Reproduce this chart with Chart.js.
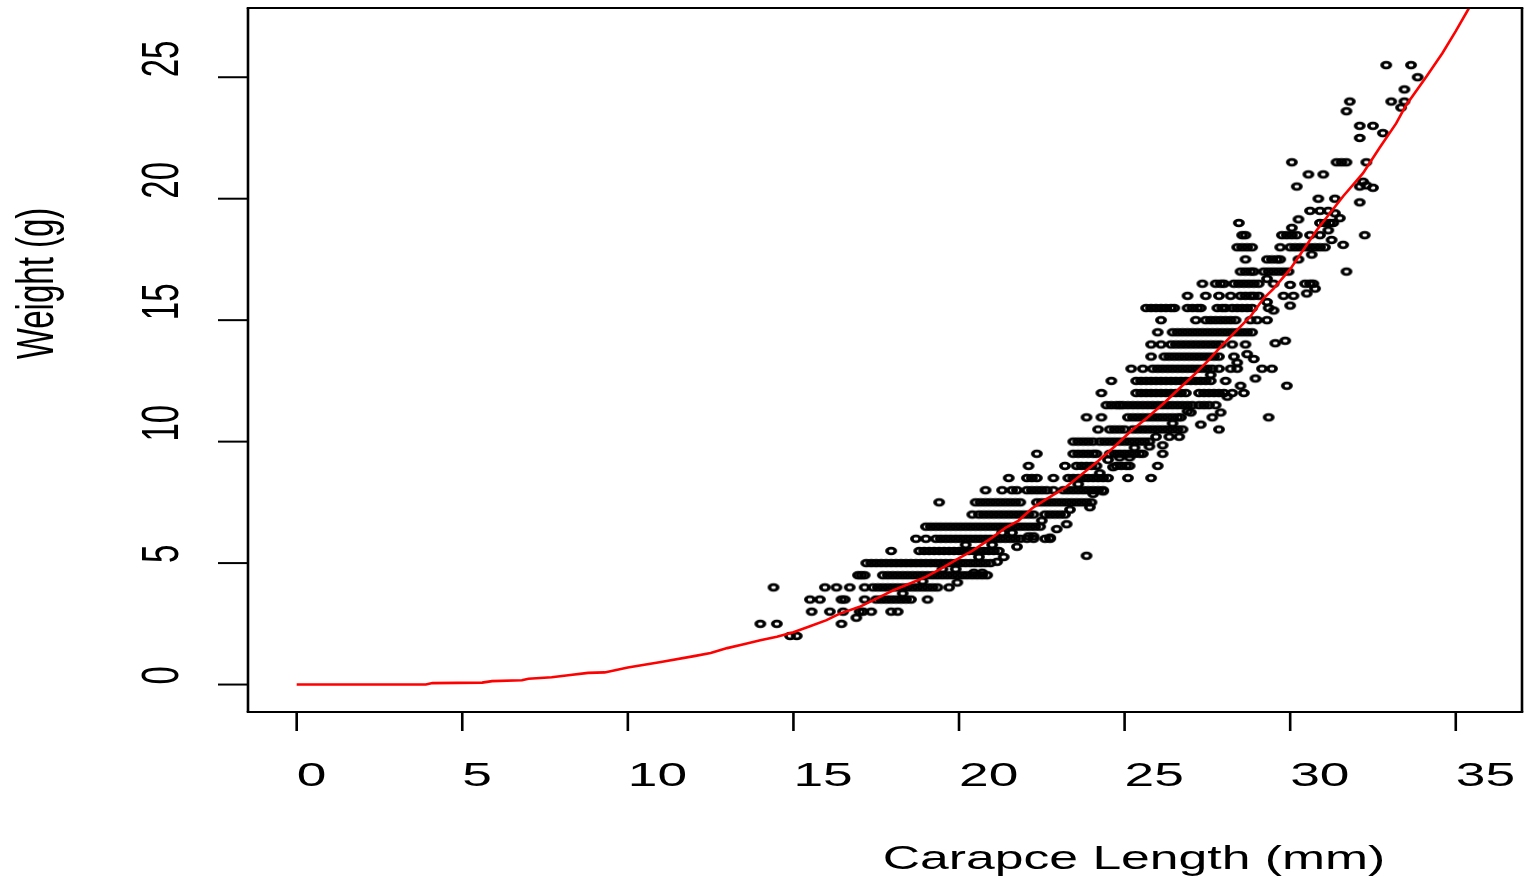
<!DOCTYPE html>
<html>
<head>
<meta charset="utf-8">
<script src="https://cdn.jsdelivr.net/npm/chart.js@4.4.1/dist/chart.umd.min.js"></script>
<style>
html,body{margin:0;padding:0;background:#fff;}
#c{display:block;}
</style>
</head>
<body>
<canvas id="c" width="1530" height="877"></canvas>
<script>
// ---------- data ----------
const xTickValues = [0, 5, 10, 15, 20, 25, 30, 35];
const yTickValues = [0, 5, 10, 15, 20, 25];
const xTitle = "Carapce Length (mm)";
const yTitle = "Weight (g)";

// weights are recorded on a 0.5 g grid: one list of lengths per weight row
const rowWeights = [2.0, 2.5, 3.0, 3.5, 4.0, 4.5, 5.0, 5.5, 6.0, 6.5, 7.0, 7.5, 8.0, 8.5, 9.0, 9.5, 10.0, 10.5, 11.0, 11.5, 12.0, 12.5, 13.0, 13.5, 14.0, 14.5, 15.0, 15.5, 16.0, 16.5, 17.0, 17.5, 18.0, 18.5, 19.0, 19.5, 20.0, 20.5, 21.0, 21.5, 23.0, 24.0, 25.5];
const rowLengths = [
  [14.9, 15.1],
  [14.0, 14.5, 16.45],
  [15.55, 16.1, 16.5, 17.0, 17.1, 17.35, 17.95, 18.15],
  [15.5, 15.8, 16.45, 16.55, 17.15, 17.5, 17.65, 17.8, 17.95, 18.1, 18.25, 18.4, 18.55, 19.05],
  [14.4, 15.95, 16.3, 16.7, 17.15, 17.4, 17.55, 17.7, 17.85, 18.0, 18.15, 18.3, 18.45, 18.6, 18.75, 18.9, 19.05, 19.2, 19.35, 19.7],
  [16.95, 17.05, 17.15, 17.7, 17.85, 18.0, 18.15, 18.3, 18.45, 18.6, 18.75, 18.9, 19.05, 19.2, 19.35, 19.5, 19.65, 19.8, 19.95, 20.1, 20.25, 20.4, 20.55, 20.7, 20.85],
  [17.2, 17.35, 17.5, 17.65, 17.8, 17.95, 18.1, 18.25, 18.4, 18.55, 18.7, 18.85, 19.0, 19.15, 19.3, 19.45, 19.6, 19.75, 19.9, 20.05, 20.2, 20.35, 20.5, 20.65, 20.8, 20.95],
  [17.95, 18.8, 18.95, 19.1, 19.25, 19.4, 19.55, 19.7, 19.85, 20.0, 20.15, 20.3, 20.45, 20.6, 20.75, 20.9, 21.05, 21.2],
  [18.7, 19.0, 19.3, 19.45, 19.6, 19.75, 19.9, 20.05, 20.2, 20.35, 20.5, 20.65, 20.8, 20.95, 21.1, 21.25, 21.4, 21.55, 21.7, 21.85, 22.05, 22.25, 22.6, 22.75],
  [19.0, 19.15, 19.3, 19.45, 19.6, 19.75, 19.9, 20.05, 20.2, 20.35, 20.5, 20.65, 20.8, 20.95, 21.1, 21.25, 21.4, 21.55, 21.7, 21.85, 22.0, 22.15, 22.3, 22.45],
  [20.4, 20.6, 20.75, 20.9, 21.05, 21.2, 21.35, 21.5, 21.65, 21.8, 21.95, 22.1, 22.25, 22.6, 22.75, 22.9, 23.05, 23.2],
  [19.4, 20.5, 20.65, 20.8, 20.95, 21.1, 21.25, 21.4, 21.55, 21.7, 21.85, 22.35, 22.5, 22.65, 22.8, 22.95, 23.1, 23.25, 23.4, 23.55, 23.7, 23.85, 24.0],
  [20.8, 21.3, 21.6, 21.75, 22.05, 22.2, 22.35, 22.5, 22.65, 22.85, 23.15, 23.3, 23.45, 23.6, 23.75, 23.9, 24.05, 24.2, 24.35],
  [21.5, 22.05, 22.2, 22.35, 22.85, 23.3, 23.45, 23.6, 23.75, 23.9, 24.05, 24.2, 24.35, 24.5, 25.1, 25.8],
  [22.1, 23.2, 23.55, 23.7, 23.85, 24.0, 24.15, 24.75, 24.9, 25.05, 25.15, 26.0],
  [22.35, 23.45, 23.6, 23.75, 23.9, 24.05, 24.15, 24.55, 24.7, 24.85, 25.0, 25.15, 25.3, 25.45, 25.55, 26.15],
  [23.45, 23.6, 23.75, 23.9, 24.05, 24.25, 24.4, 24.55, 24.7, 24.85, 25.0, 25.15, 25.3, 25.45, 25.6, 25.75],
  [24.2, 24.55, 24.7, 24.85, 25.0, 25.25, 25.4, 25.55, 25.7, 25.85, 26.0, 26.15, 26.3, 26.45, 26.6, 26.75, 27.85],
  [23.85, 24.3, 25.1, 25.25, 25.4, 25.55, 25.7, 25.85, 26.0, 26.15, 26.3, 26.45, 26.6, 26.7, 27.65, 29.35],
  [24.45, 24.6, 24.75, 24.85, 24.95, 25.1, 25.25, 25.4, 25.55, 25.7, 25.85, 26.0, 26.15, 26.3, 26.45, 26.6, 26.75, 26.9, 27.05, 27.25, 27.4, 27.55, 27.75],
  [24.3, 25.35, 25.5, 25.65, 25.8, 25.95, 26.1, 26.25, 26.4, 26.55, 26.7, 26.85, 27.25, 27.4, 27.55, 27.7, 27.85, 28.0, 28.25, 28.6],
  [24.6, 25.35, 25.5, 25.65, 25.8, 25.95, 26.1, 26.25, 26.4, 26.55, 26.7, 26.85, 27.0, 27.15, 27.3, 27.45, 27.6, 28.05],
  [25.2, 25.55, 25.85, 26.0, 26.15, 26.3, 26.45, 26.6, 26.75, 26.9, 27.05, 27.2, 27.35, 27.5, 27.65, 27.85, 28.2, 28.4, 29.15, 29.45],
  [25.8, 26.2, 26.35, 26.5, 26.65, 26.8, 26.95, 27.1, 27.25, 27.4, 27.55, 27.7, 27.85, 28.3],
  [25.8, 26.1, 26.4, 26.55, 26.7, 26.85, 27.0, 27.15, 27.3, 27.45, 27.6, 27.75, 27.9, 28.25, 28.65],
  [26.0, 26.45, 26.6, 26.75, 26.9, 27.05, 27.2, 27.35, 27.5, 27.65, 27.8, 27.95, 28.1, 28.25, 28.4, 28.55, 28.7, 28.85],
  [26.1, 27.15, 27.45, 27.6, 27.75, 27.9, 28.05, 28.2, 28.35, 28.8, 29.0, 29.3],
  [25.65, 25.8, 25.95, 26.1, 26.25, 26.4, 26.5, 26.9, 27.05, 27.2, 27.3, 27.8, 27.95, 28.05, 28.25, 28.4, 28.55, 28.7, 28.85, 29.35],
  [26.9, 27.45, 27.85, 28.2, 28.5, 28.65, 28.8, 28.9, 29.05, 29.8, 30.1],
  [27.35, 27.75, 27.9, 28.0, 28.3, 28.45, 28.6, 28.75, 28.9, 29.05, 29.5, 30.45, 30.6, 30.7],
  [28.5, 28.65, 28.8, 28.9, 29.2, 29.35, 29.5, 29.65, 29.8, 29.95, 31.7],
  [28.65, 29.3, 29.45, 29.6, 29.7, 30.25],
  [28.4, 28.55, 28.7, 28.85, 29.7, 30.0, 30.15, 30.3, 30.45, 30.6, 30.75, 30.9, 31.05],
  [28.55, 28.65, 29.75, 29.9, 30.05, 30.2, 30.6, 30.9, 32.25],
  [28.45, 30.9, 31.05, 31.2, 31.3],
  [30.6, 30.9, 31.15],
  [30.85, 31.35],
  [30.2, 32.1],
  [30.55, 31.0],
  [30.05, 31.4, 31.55, 31.7, 32.3],
  [32.1, 32.5],
  [31.8, 33.05, 33.45],
  [32.9, 33.65]
];

// points that sit off the 0.5 g grid
const looseLengths = [16.9, 19.95, 20.45, 20.7, 21.15, 21.35, 21.75, 22.1, 22.25, 22.75, 22.95, 23.25, 23.35, 23.85, 23.95, 24.05, 24.35, 24.25, 24.65, 24.85, 25.15, 25.75, 26.15, 25.95, 26.35, 26.65, 26.45, 27.3, 27.0, 27.9, 28.1, 28.5, 28.95, 29.9, 28.7, 28.9, 29.55, 29.85, 29.3, 29.5, 30.0, 29.3, 30.0, 30.75, 30.5, 30.65, 31.25, 31.6, 31.15, 30.05, 30.25, 31.5, 31.35, 32.1, 32.2, 32.3, 32.5, 32.1, 32.8, 31.7, 33.35, 33.45, 33.85, 19.9, 20.6, 21.0, 21.3, 21.6, 22.5, 18.3, 18.9, 19.5, 20.2, 23.6, 24.5, 25.3, 26.9, 27.6, 28.4];
const looseWeights = [2.75, 4.2, 4.6, 4.6, 5.05, 5.25, 5.67, 6.1, 6.1, 6.05, 6.4, 6.6, 7.2, 5.3, 7.3, 7.85, 7.95, 8.7, 8.95, 9.35, 9.35, 9.8, 9.85, 10.2, 10.2, 10.2, 10.75, 10.7, 11.2, 11.2, 11.85, 12.3, 12.6, 12.3, 13.6, 13.4, 14.05, 14.15, 15.75, 15.4, 15.6, 16.7, 16.45, 16.3, 16.1, 17.7, 18.3, 18.1, 18.7, 18.8, 19.15, 19.2, 19.4, 19.85, 20.7, 20.55, 20.45, 22.5, 22.7, 23.6, 23.75, 24.5, 25.0, 4.75, 5.25, 5.75, 6.25, 6.25, 6.75, 3.75, 4.25, 4.75, 5.75, 8.25, 9.25, 9.75, 11.25, 12.75, 13.25];

// fitted length-weight curve (red)
const curveLengths = [0, 3.9, 4.1, 5.6, 5.9, 6.8, 7.0, 7.7, 8.2, 8.8, 9.3, 10, 11, 12, 12.5, 13, 13.5, 14, 14.5, 15, 15.5, 16, 16.4, 17, 17.6, 18, 18.5, 19, 19.5, 20, 20.4, 21, 21.4, 21.8, 22.2, 22.6, 23.2, 23.7, 24.2, 24.7, 25.2, 25.7, 26.2, 26.7, 27.1, 27.5, 27.9, 28.4, 28.8, 29.2, 29.5, 30, 30.4, 30.8, 31.2, 31.6, 32.2, 32.7, 33.2, 33.5, 34.1, 34.6, 35.0, 35.4, 35.6];
const curveWeights = [0, 0, 0.06, 0.08, 0.14, 0.18, 0.24, 0.3, 0.38, 0.48, 0.5, 0.7, 0.93, 1.17, 1.3, 1.5, 1.66, 1.82, 1.97, 2.15, 2.4, 2.65, 2.92, 3.2, 3.6, 3.87, 4.15, 4.43, 4.8, 5.2, 5.5, 6.05, 6.45, 6.75, 7.25, 7.6, 8.1, 8.65, 9.2, 9.8, 10.45, 11.0, 11.6, 12.25, 12.75, 13.3, 13.9, 14.6, 15.15, 15.9, 16.3, 17.1, 17.9, 18.7, 19.4, 20.1, 21.05, 22.1, 23.1, 23.85, 25.0, 26.0, 26.9, 27.85, 28.3];

// ---------- build chart data ----------
const scatterPoints = [];
rowWeights.forEach((w, i) => rowLengths[i].forEach(l => scatterPoints.push({x: l, y: w})));
looseLengths.forEach((l, i) => scatterPoints.push({x: l, y: looseWeights[i]}));
const curvePoints = curveLengths.map((l, i) => ({x: l, y: curveWeights[i]}));

// open-circle marker, stretched horizontally like the reference
const ring = document.createElement('canvas');
ring.width = 16; ring.height = 12;
(function(){
  const g = ring.getContext('2d');
  g.save();
  g.translate(8, 6);
  g.scale(1.42, 1);
  g.beginPath();
  g.arc(0, 0, 2.9, 0, Math.PI * 2);
  g.lineWidth = 2.6;
  g.strokeStyle = '#000';
  g.stroke();
  g.restore();
})();

const SX = 1.59; // horizontal stretch of the text in the reference
const FONT = '"Liberation Sans", Arial, sans-serif';

const axesPlugin = {
  id: 'rAxes',
  afterDraw(chart) {
    const ctx = chart.ctx;
    const a = chart.chartArea;
    const xs = chart.scales.x, ys = chart.scales.y;
    ctx.save();
    ctx.strokeStyle = '#000';
    ctx.fillStyle = '#000';
    // box
    ctx.lineWidth = 2.6;
    ctx.beginPath();
    ctx.moveTo(a.left, a.top); ctx.lineTo(a.left, a.bottom);
    ctx.moveTo(a.right, a.top); ctx.lineTo(a.right, a.bottom);
    ctx.stroke();
    ctx.lineWidth = 2;
    ctx.beginPath();
    ctx.moveTo(a.left - 1.3, a.top); ctx.lineTo(a.right + 1.3, a.top);
    ctx.moveTo(a.left - 1.3, a.bottom); ctx.lineTo(a.right + 1.3, a.bottom);
    ctx.stroke();
    // x ticks + labels
    ctx.lineWidth = 2.6;
    ctx.font = '33.5px ' + FONT;
    ctx.textAlign = 'left';
    ctx.textBaseline = 'alphabetic';
    xTickValues.forEach(v => {
      const px = xs.getPixelForValue(v);
      ctx.beginPath();
      ctx.moveTo(px, a.bottom); ctx.lineTo(px, a.bottom + 19);
      ctx.stroke();
      ctx.save();
      ctx.translate(px, a.bottom + 74);
      ctx.scale(SX, 1);
      ctx.fillText(String(v), 0, 0);
      ctx.restore();
    });
    // y ticks + labels (rotated, reading upwards)
    ctx.lineWidth = 2;
    ctx.font = '33px ' + FONT;
    yTickValues.forEach(v => {
      const py = ys.getPixelForValue(v);
      ctx.beginPath();
      ctx.moveTo(a.left - 30, py); ctx.lineTo(a.left, py);
      ctx.stroke();
      ctx.save();
      ctx.translate(178, py);
      ctx.scale(SX, 1);
      ctx.rotate(-Math.PI / 2);
      ctx.fillText(String(v), 0, 0);
      ctx.restore();
    });
    // y title
    ctx.save();
    ctx.font = '33px ' + FONT;
    ctx.textAlign = 'center';
    ctx.translate(53, 283.5);
    ctx.scale(SX, 1);
    ctx.rotate(-Math.PI / 2);
    ctx.fillText(yTitle, 0, 0);
    ctx.restore();
    // x title
    ctx.save();
    ctx.font = '34px ' + FONT;
    ctx.textAlign = 'center';
    ctx.translate(1134, 869);
    ctx.scale(1.52, 1);
    ctx.fillText(xTitle, 0, 0);
    ctx.restore();
    ctx.restore();
  }
};

new Chart(document.getElementById('c'), {
  type: 'scatter',
  data: {
    datasets: [
      {
        label: 'fit',
        data: curvePoints,
        showLine: true,
        borderColor: '#ff0000',
        borderWidth: 2.6,
        pointRadius: 0,
        tension: 0,
        fill: false,
        order: 0
      },
      {
        label: 'observed',
        data: scatterPoints,
        pointStyle: ring,
        pointRadius: 5,
        showLine: false,
        order: 1
      }
    ]
  },
  options: {
    responsive: false,
    animation: false,
    devicePixelRatio: 1,
    layout: { padding: { left: 248, top: 8, right: 8, bottom: 165 } },
    scales: {
      x: { type: 'linear', min: -1.47, max: 37.0, display: false },
      y: { type: 'linear', min: -1.13, max: 27.85, display: false }
    },
    plugins: { legend: { display: false }, tooltip: { enabled: false } },
    events: []
  },
  plugins: [axesPlugin]
});
</script>
</body>
</html>
